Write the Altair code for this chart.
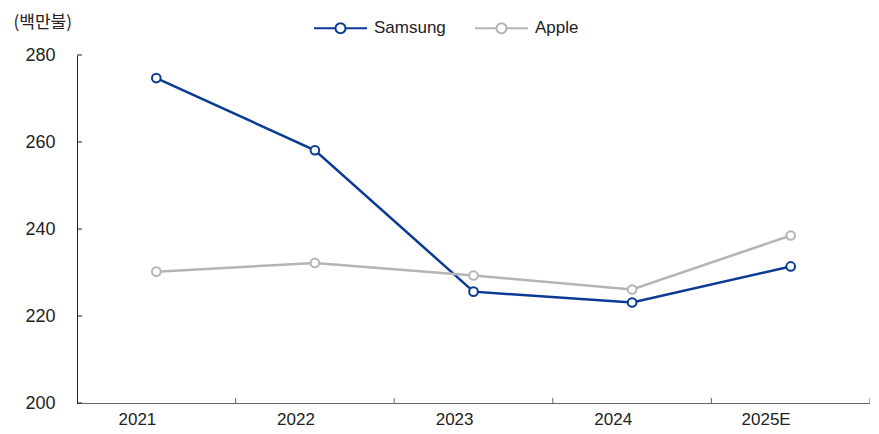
import altair as alt
import pandas as pd

years = ["2021", "2022", "2023", "2024", "2025E"]
samsung = [274.7, 258.1, 225.6, 223.1, 231.4]
apple = [230.2, 232.2, 229.3, 226.1, 238.5]
series = ["Samsung", "Apple"]
colors = ["#0a3a94", "#b4b4b4"]
y_ticks = [200, 220, 240, 260, 280]

rows = []
for name, vals in zip(series, [samsung, apple]):
    for yr, v in zip(years, vals):
        rows.append({"year": yr, "value": v, "series": name})
df = pd.DataFrame(rows)
df_years = pd.DataFrame({"year": years})
df_yt = pd.DataFrame({"v": y_ticks})

FONT = "Liberation Sans"
W, H = 793, 348
xscale = alt.Scale(type="band", domain=years, paddingInner=0, paddingOuter=0)
yscale = alt.Scale(domain=[200, 280], nice=False, zero=False)

r = 0.19
sym = f"M-1,0H-{r}M{r},0H1M-{r},0A{r},{r} 0 1 1 {r},0A{r},{r} 0 1 1 -{r},0"

x_enc = alt.X("year:N", scale=xscale, sort=years,
              axis=alt.Axis(title=None, ticks=False, labelAngle=0, labelFontSize=17,
                            labelFont=FONT, labelColor="#222", labelPadding=16,
                            domainColor="#666", domainWidth=1.2, grid=False))
y_enc = alt.Y("value:Q", scale=yscale,
              axis=alt.Axis(values=y_ticks, ticks=False, labelFontSize=18, labelFont=FONT,
                            labelColor="#222", labelPadding=22, domainColor="#222",
                            domainWidth=1, grid=False, title="(백만불)", titleAngle=0,
                            titleAlign="left", titleBaseline="middle", titleX=-64,
                            titleY=-33, titleFont="Noto Sans CJK KR", titleFontSize=17,
                            titleFontWeight="normal", titleColor="#222"))
c_enc = alt.Color("series:N", scale=alt.Scale(domain=series, range=colors),
                  legend=alt.Legend(orient="none", legendX=236, legendY=-54.5,
                                    direction="horizontal", title=None,
                                    symbolType=sym, symbolSize=2809,
                                    symbolStrokeWidth=2, symbolFillColor="white",
                                    labelFontSize=17, labelFont=FONT,
                                    labelColor="#222", labelOffset=6,
                                    columnPadding=25, padding=0))

lines = alt.Chart(df).mark_line(strokeWidth=2.5).encode(x=x_enc, y=y_enc, color=c_enc)
points = alt.Chart(df).mark_point(shape="circle", filled=False, fill="white", size=75,
                                  strokeWidth=2, opacity=1).encode(
    x=x_enc, y=y_enc, color=c_enc)

xticks = alt.Chart(df_years).mark_rule(color="#666", strokeWidth=1).encode(
    x=alt.X("year:N", scale=xscale, sort=years, bandPosition=1),
    y=alt.value(H - 5), y2=alt.value(H),
)

yticks = alt.Chart(df_yt).mark_rule(color="#222", strokeWidth=1).encode(
    y=alt.Y("v:Q", scale=yscale),
    x=alt.value(0), x2=alt.value(5),
)

chart = alt.layer(xticks, yticks, lines, points).properties(
    width=W, height=H,
    autosize=alt.AutoSizeParams(type="none"),
    padding={"left": 69, "top": 47, "right": 0, "bottom": 34},
).configure(background="white", view=alt.ViewConfig(stroke=None))

chart.save("out.html", embed_options={"renderer": "svg", "actions": False})
